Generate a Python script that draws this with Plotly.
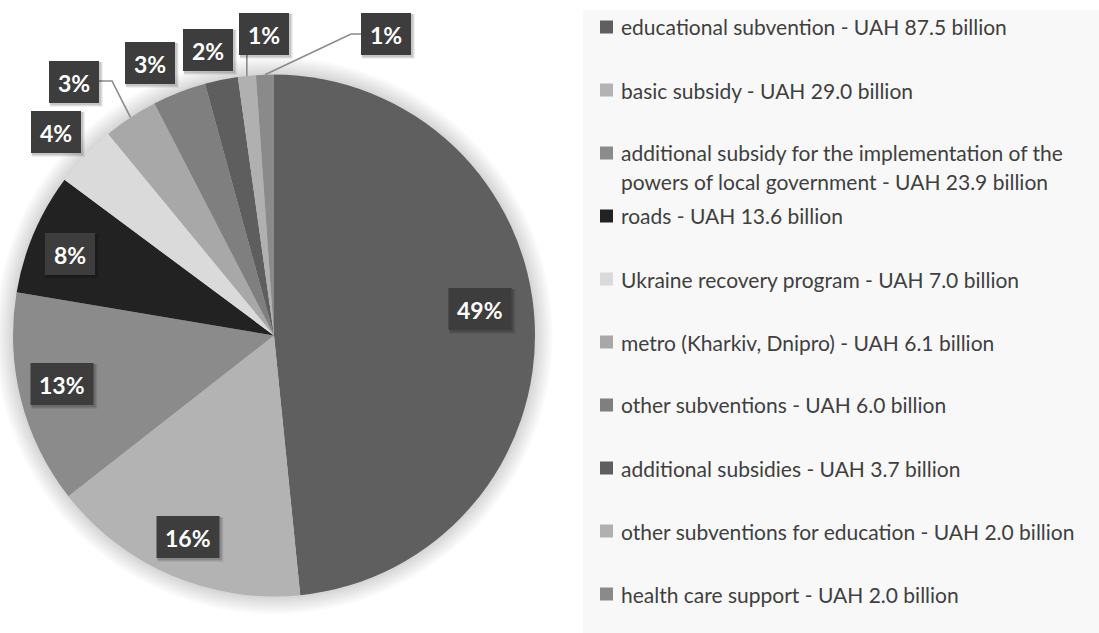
import math
import textwrap
import plotly.graph_objects as go

# ---- data -------------------------------------------------------------
categories = [
    "educational subvention",
    "basic subsidy",
    "additional subsidy for the implementation of the powers of local government",
    "roads",
    "Ukraine recovery program",
    "metro (Kharkiv, Dnipro)",
    "other subventions",
    "additional subsidies",
    "other subventions for education",
    "health care support",
]
amounts_bn = [87.5, 29.0, 23.9, 13.6, 7.0, 6.1, 6.0, 3.7, 2.0, 2.0]
share_labels = ["49%", "16%", "13%", "8%", "4%", "3%", "3%", "2%", "1%", "1%"]

# ---- styling ----------------------------------------------------------
slice_colors = [
    "#5f5f5f", "#b3b3b3", "#8b8b8b", "#222222", "#dadada",
    "#a8a8a8", "#7f7f7f", "#5e5e5e", "#b0b0b0", "#8a8a8a",
]
W, H = 1099, 633
CX, CY, R = 274.0, 335.5, 261.0          # pie centre / radius in px

# label box centres (px)
label_centres = [
    (480, 309), (188, 537), (62, 384), (70, 254), (56, 132),
    (74, 82), (150, 63), (208, 50), (264, 34), (386, 34),
]
BOX_H = 42
LABEL_FONT = dict(family="Lato", size=23, color="white")
LEGEND_FONT = dict(family="Lato", size=21, color="#404040")


def px(x):
    return x / W


def py(y):
    return 1 - y / H


fig = go.Figure()

fig.add_trace(go.Pie(
    labels=categories,
    values=amounts_bn,
    sort=False,
    direction="clockwise",
    rotation=0,
    marker=dict(colors=slice_colors, line=dict(width=0)),
    textinfo="none",
    hoverinfo="label+value+percent",
    showlegend=False,
    domain=dict(x=[px(CX - R), px(CX + R)], y=[py(CY + R), py(CY - R)]),
))

shapes = []
annotations = []

# soft glow around the pie
for k in range(1, 9):
    r = R + k * 2.2
    shapes.append(dict(
        type="circle", xref="paper", yref="paper", layer="below",
        x0=px(CX - r), x1=px(CX + r), y0=py(CY + r), y1=py(CY - r),
        fillcolor="rgba(0,0,0,0.02)", line=dict(width=0),
    ))

# slice mid angles (degrees clockwise from 12 o'clock), from the data
total = sum(amounts_bn)
mid_angles = []
acc = 0.0
for v in amounts_bn:
    mid_angles.append((acc + v / 2) / total * 360)
    acc += v


def edge_point(i):
    a = math.radians(mid_angles[i])
    return CX + R * math.sin(a), CY - R * math.cos(a)


# leader lines for the crowded small slices
leaders = {}
ex, ey = edge_point(5)
leaders[5] = [(99, 81), (112, 81), (ex, ey)]
ex, ey = edge_point(8)
leaders[8] = [(ex, 55), (ex, ey)]
ex, ey = edge_point(9)
leaders[9] = [(361, 34), (351, 34), (ex, ey)]
for pts in leaders.values():
    path = "M " + " L ".join(f"{px(x)},{py(y)}" for x, y in pts)
    shapes.append(dict(type="path", xref="paper", yref="paper", path=path,
                       line=dict(color="#8a8a8a", width=1.6)))

# percentage label boxes
for (lx, ly), txt in zip(label_centres, share_labels):
    bw = 50 if len(txt) <= 2 else 63
    x0, x1 = lx - bw / 2, lx + bw / 2
    y0, y1 = ly - BOX_H / 2, ly + BOX_H / 2
    for off, alpha in ((4, 0.06), (3, 0.08), (2, 0.10)):
        shapes.append(dict(
            type="rect", xref="paper", yref="paper",
            x0=px(x0 + 1), x1=px(x1 + off), y0=py(y1 + off), y1=py(y0 + 1),
            fillcolor=f"rgba(0,0,0,{alpha})", line=dict(width=0),
        ))
    shapes.append(dict(
        type="rect", xref="paper", yref="paper",
        x0=px(x0), x1=px(x1), y0=py(y1), y1=py(y0),
        fillcolor="#3d3d3d", line=dict(width=0),
    ))
    annotations.append(dict(
        text=f"<b>{txt}</b>", xref="paper", yref="paper",
        x=px(lx), y=py(ly + 1), xanchor="center", yanchor="middle",
        showarrow=False, font=LABEL_FONT,
    ))

# legend panel
shapes.append(dict(type="rect", xref="paper", yref="paper", layer="below",
                   x0=px(583), x1=1, y0=0, y1=py(10),
                   fillcolor="#f8f8f8", line=dict(width=0)))

ROW0, ROW_STEP, LINE_STEP = 27, 63, 29
MK_X0, MK_SIZE, TXT_X = 600, 13, 619
for i, (cat, amt, col) in enumerate(zip(categories, amounts_bn, slice_colors)):
    yc = ROW0 + i * ROW_STEP
    shapes.append(dict(
        type="rect", xref="paper", yref="paper",
        x0=px(MK_X0), x1=px(MK_X0 + MK_SIZE),
        y0=py(yc + MK_SIZE / 2), y1=py(yc - MK_SIZE / 2),
        fillcolor=col, line=dict(width=0),
    ))
    lines = textwrap.wrap(f"{cat} - UAH {amt:.1f} billion", 49)
    for j, line in enumerate(lines):
        annotations.append(dict(
            text=line, xref="paper", yref="paper",
            x=px(TXT_X), y=py(yc + j * LINE_STEP), xanchor="left",
            yanchor="middle", showarrow=False, font=LEGEND_FONT,
        ))

fig.update_layout(
    width=W, height=H, autosize=False,
    margin=dict(l=0, r=0, t=0, b=0),
    paper_bgcolor="white", plot_bgcolor="white",
    shapes=shapes, annotations=annotations,
)

fig.write_html("out.html")
